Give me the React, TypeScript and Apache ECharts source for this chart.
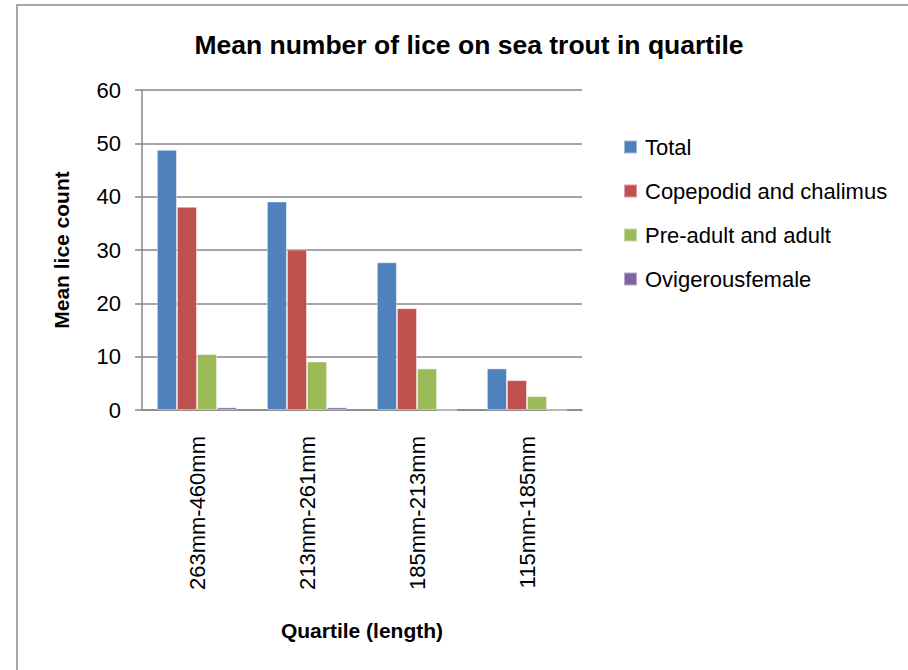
import React, { useEffect, useRef } from "react";
import * as echarts from "echarts";

const categories = ["263mm-460mm", "213mm-261mm", "185mm-213mm", "115mm-185mm"];
const seriesNames = ["Total", "Copepodid and chalimus", "Pre-adult and adult", "Ovigerousfemale"];
const totalValues = [48.8, 39.1, 27.7, 7.8];
const copepodidValues = [38.1, 30.1, 19.1, 5.6];
const preAdultValues = [10.5, 9.1, 7.8, 2.6];
const ovigerousValues = [0.5, 0.5, 0, 0];
const colors = ["#4F81BD", "#C0504D", "#9BBB59", "#8064A2"];
const yTicks = { min: 0, max: 60, interval: 10 };

const FONT = "Liberation Sans, Arial, sans-serif";

export default function App() {
  const ref = useRef<HTMLDivElement>(null);
  useEffect(() => {
    if (!ref.current) return;
    const chart = echarts.init(ref.current, null, { renderer: "svg" });
    const data = [totalValues, copepodidValues, preAdultValues, ovigerousValues];
    chart.setOption({
      animation: false,
      backgroundColor: "#ffffff",
      textStyle: { fontFamily: FONT },
      title: {
        text: "Mean number of lice on sea trout in quartile",
        left: 464,
        top: 26,
        textAlign: "center",
        textStyle: { fontFamily: FONT, fontWeight: "bold", fontSize: 26.5, color: "#000" },
      },
      graphic: [
        {
          type: "rect",
          shape: { x: 17, y: 5, width: 1200, height: 1000 },
          style: { fill: "none", stroke: "#8a8a8a", lineWidth: 1.5 },
          silent: true,
        },
      ],
      legend: {
        orient: "vertical",
        left: 618,
        top: 131,
        itemWidth: 13,
        itemHeight: 13,
        itemGap: 22,
        icon: "rect",
        textStyle: { fontFamily: FONT, fontSize: 22, color: "#000", padding: [0, 0, 0, 3] },
        data: seriesNames,
      },
      grid: { left: 142, right: 326, top: 90, bottom: 260, containLabel: false },
      xAxis: {
        type: "category",
        data: categories,
        name: "Quartile (length)",
        nameLocation: "middle",
        nameGap: 210,
        nameTextStyle: { fontFamily: FONT, fontWeight: "bold", fontSize: 21, color: "#000", verticalAlign: "top" },
        axisLine: { lineStyle: { color: "#868686", width: 1.5 } },
        axisTick: { show: false },
        axisLabel: { rotate: 90, interval: 0, margin: 26, fontSize: 22, color: "#000", fontFamily: FONT },
      },
      yAxis: {
        type: "value",
        min: yTicks.min,
        max: yTicks.max,
        interval: yTicks.interval,
        name: "Mean lice count",
        nameLocation: "middle",
        nameGap: 70,
        nameTextStyle: { fontFamily: FONT, fontWeight: "bold", fontSize: 21, color: "#000" },
        axisLine: { show: true, lineStyle: { color: "#868686", width: 1.5 } },
        axisTick: { show: true, length: 7, lineStyle: { color: "#868686", width: 1.5 } },
        splitLine: { lineStyle: { color: "#868686", width: 1.5 } },
        axisLabel: { margin: 21, fontSize: 22, color: "#000", fontFamily: FONT },
      },
      series: seriesNames.map((name, i) => ({
        name,
        type: "bar",
        data: data[i],
        barGap: "0%",
        barCategoryGap: "27%",
        itemStyle: { color: colors[i], borderColor: "rgba(255,255,255,0.45)", borderWidth: 1 },
      })),
    });
    return () => chart.dispose();
  }, []);
  return (
    <div
      ref={ref}
      style={{ position: "fixed", left: 0, top: 0, width: 908, height: 670 }}
    />
  );
}
